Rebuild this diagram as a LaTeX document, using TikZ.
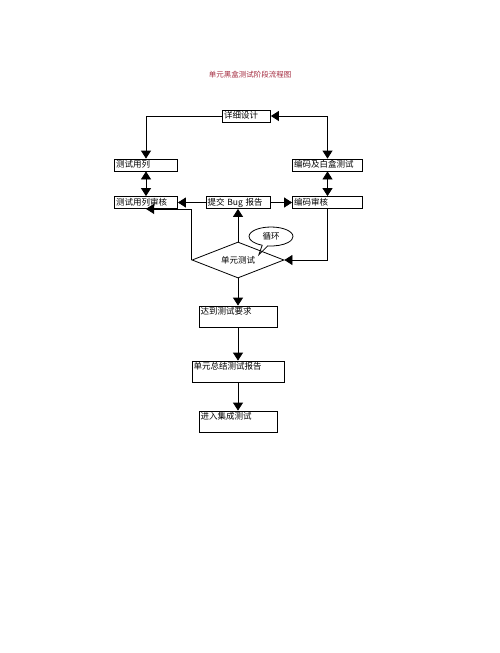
\documentclass[tikz,border=0pt]{standalone}
\usepackage{fontspec}
\setmainfont{Noto Sans CJK SC}
\definecolor{titlered}{RGB}{165,45,65}
\usetikzlibrary{arrows.meta,positioning,shapes.geometric,shapes.callouts}

\begin{document}
\begin{tikzpicture}[
    x=1pt, y=-1pt,
    box/.style={draw, line width=0.8pt, align=left, font=\fontsize{8.5}{9}\selectfont,
                inner sep=1.5pt, text height=7pt, text depth=2pt},
    tallbox/.style={box, text depth=11pt},
    arr/.style={-{Triangle[length=8pt,width=10pt]}, line width=0.8pt},
    dblarr/.style={{Triangle[length=8pt,width=10pt]}-{Triangle[length=8pt,width=10pt]}, line width=0.8pt}
  ]
    \useasboundingbox[fill=white] (0,0) rectangle (500,653);

    % Title
    \node[font=\fontsize{7.5}{9}\selectfont, titlered] (title) at (250,75) {单元黑盒测试阶段流程图};

    % Upper boxes
    \node[box, text width=45pt]  (design) at (246.5,116)   {详细设计};
    \node[box, text width=60pt]  (case)   at (146,165)     {测试用列};
    \node[box, text width=67pt]  (code)   at (327.5,165)   {编码及白盒测试};
    \node[box, text width=60pt]  (caseck) at (146,202.5)   {测试用列审核};
    \node[box, text width=61pt]  (bug)    at (238,202.5)   {提交 Bug 报告};
    \node[box, text width=67pt]  (codeck) at (327.5,202.5) {编码审核};

    % Decision and note
    \node[draw, line width=0.8pt, diamond, aspect=2.5, inner sep=0pt,
          minimum width=92pt, minimum height=36pt,
          font=\fontsize{8.5}{9}\selectfont] (unit) at (238,260) {单元测试};
    \node[draw, line width=0.8pt, ellipse callout, minimum width=44pt, minimum height=19pt,
          inner sep=0pt, callout relative pointer={(-6pt,-9pt)},
          font=\fontsize{8.5}{9}\selectfont] (loop) at (271,236.5) {循环};

    % Lower boxes
    \node[tallbox, text width=75pt] (reach)   at (238,316.5) {达到测试要求};
    \node[tallbox, text width=89pt] (summary) at (238,371.5) {单元总结测试报告};
    \node[tallbox, text width=75pt] (integ)   at (238,421.5) {进入集成测试};

    % Arrows
    \draw[arr]    (design.west) -| (case.north);
    \draw[dblarr] (design.east) -| (code.north);
    \draw[dblarr] (case)   -- (caseck);
    \draw[dblarr] (code)   -- (codeck);
    \draw[arr]    (bug)    -- (caseck);
    \draw[arr]    (bug)    -- (codeck);
    \draw[arr]    (unit.north) -- (bug.south);
    \draw[arr]    (unit.west) |- (caseck.south);
    \draw[arr]    (codeck.south) |- (unit.east);
    \draw[arr]    (unit.south) -- (reach.north);
    \draw[arr]    (reach)   -- (summary);
    \draw[arr]    (summary) -- (integ);
  \end{tikzpicture}
\end{document}
